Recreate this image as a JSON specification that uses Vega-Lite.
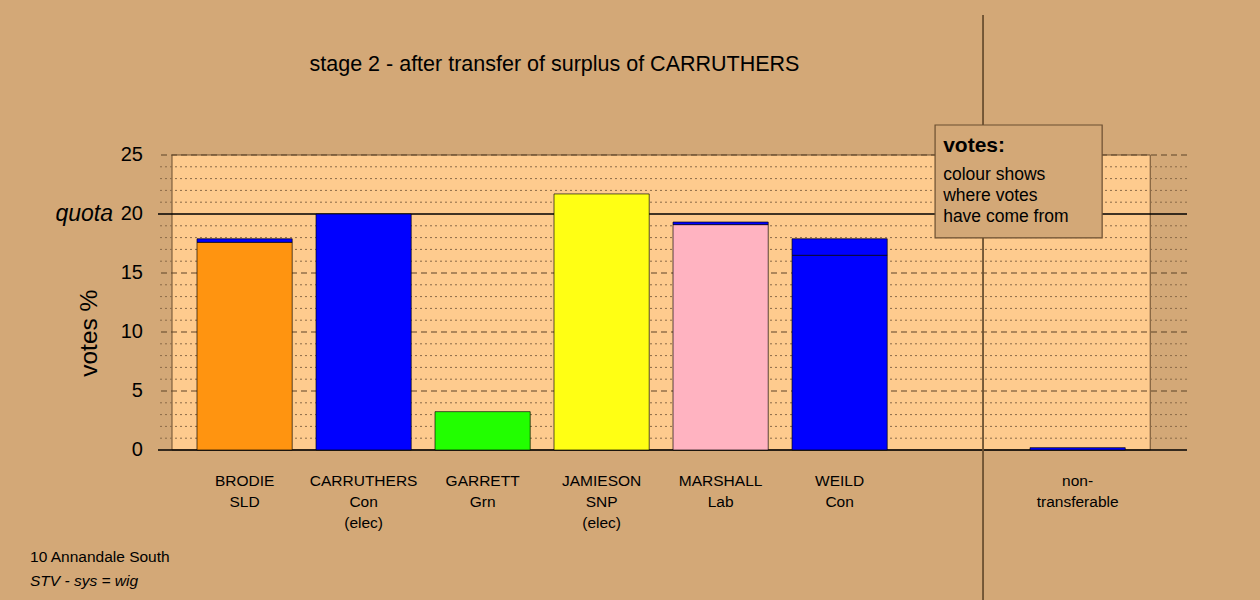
{
  "$schema": "https://vega.github.io/schema/vega-lite/v6.json",
  "autosize": "none",
  "width": 1029,
  "height": 585,
  "padding": {"left": 158, "top": 15, "right": 73, "bottom": 0},
  "background": "#D3A877",
  "config": {"view": {"stroke": null}, "font": "Liberation Sans", "text": {"font": "Liberation Sans"}},
  "datasets": {
    "bars": [
      {"slot": 0, "cand": "BRODIE", "source": "SLD", "seq": 1, "votes": 17.6},
      {"slot": 0, "cand": "BRODIE", "source": "Con", "seq": 2, "votes": 0.3},
      {"slot": 1, "cand": "CARRUTHERS", "source": "Con", "seq": 1, "votes": 20.0},
      {"slot": 2, "cand": "GARRETT", "source": "Grn", "seq": 1, "votes": 3.25},
      {"slot": 3, "cand": "JAMIESON", "source": "SNP", "seq": 1, "votes": 21.7},
      {"slot": 4, "cand": "MARSHALL", "source": "Lab", "seq": 1, "votes": 19.1},
      {"slot": 4, "cand": "MARSHALL", "source": "Con", "seq": 2, "votes": 0.22},
      {"slot": 5, "cand": "WEILD", "source": "Con", "seq": 1, "votes": 16.5},
      {"slot": 5, "cand": "WEILD", "source": "Con", "seq": 2, "votes": 1.4},
      {"slot": 7, "cand": "non-transferable", "source": "Con", "seq": 1, "votes": 0.2}
    ],
    "xlabels": [
      {"slot": 0, "label": "BRODIE\nSLD"},
      {"slot": 1, "label": "CARRUTHERS\nCon\n(elec)"},
      {"slot": 2, "label": "GARRETT\nGrn"},
      {"slot": 3, "label": "JAMIESON\nSNP\n(elec)"},
      {"slot": 4, "label": "MARSHALL\nLab"},
      {"slot": 5, "label": "WEILD\nCon"},
      {"slot": 7, "label": "non-\ntransferable"}
    ],
    "dotted": [{"v": 1}, {"v": 2}, {"v": 3}, {"v": 4}, {"v": 6}, {"v": 7}, {"v": 8}, {"v": 9}, {"v": 11}, {"v": 12}, {"v": 13}, {"v": 14}, {"v": 16}, {"v": 17}, {"v": 18}, {"v": 19}, {"v": 21}, {"v": 22}, {"v": 23}, {"v": 24}],
    "dashed": [{"v": 5}, {"v": 10}, {"v": 15}, {"v": 25}],
    "solid": [{"v": 0}, {"v": 20}],
    "yticks": [{"v": 0}, {"v": 5}, {"v": 10}, {"v": 15}, {"v": 20}, {"v": 25}]
  },
  "layer": [
    {
      "data": {"values": [{"x0": -0.61, "x1": 7.61, "y0": 0, "y1": 25}]},
      "mark": {"type": "rect", "fill": "#FECB8E", "stroke": "#6B4E30", "strokeWidth": 1},
      "encoding": {
        "x": {"field": "x0", "type": "quantitative", "scale": {"domain": [-0.7277, 7.919], "nice": false, "zero": false, "padding": 0}, "axis": null},
        "x2": {"field": "x1"},
        "y": {"field": "y0", "type": "quantitative", "scale": {"domain": [-12.712, 36.864], "nice": false, "zero": false, "padding": 0}, "axis": null},
        "y2": {"field": "y1"}
      }
    },
    {
      "data": {"name": "dotted"},
      "mark": {"type": "rule", "stroke": "#8A6A48", "strokeWidth": 1, "strokeDash": [2, 3]},
      "encoding": {"y": {"field": "v", "type": "quantitative", "axis": null}}
    },
    {
      "data": {"name": "dashed"},
      "mark": {"type": "rule", "stroke": "#5E4428", "strokeWidth": 1.2, "strokeDash": [6, 4]},
      "encoding": {"y": {"field": "v", "type": "quantitative", "axis": null}}
    },
    {
      "data": {"name": "solid"},
      "mark": {"type": "rule", "stroke": "#000000", "strokeWidth": 1.5},
      "encoding": {"y": {"field": "v", "type": "quantitative", "axis": null}}
    },
    {
      "data": {"values": [{"x": 6.205}]},
      "mark": {"type": "rule", "stroke": "#6B5030", "strokeWidth": 1.8},
      "encoding": {"x": {"field": "x", "type": "quantitative", "axis": null}}
    },
    {
      "data": {"name": "bars"},
      "transform": [
        {"stack": "votes", "groupby": ["slot"], "sort": [{"field": "seq"}], "as": ["v0", "v1"]}
      ],
      "mark": {"type": "bar", "width": 95.2, "stroke": "#000000", "strokeOpacity": 0.65, "strokeWidth": 1},
      "encoding": {
        "x": {"field": "slot", "type": "quantitative", "axis": null},
        "y": {"field": "v0", "type": "quantitative", "axis": null, "stack": null},
        "y2": {"field": "v1"},
        "fill": {"field": "source", "type": "nominal", "legend": null,
          "scale": {"domain": ["SLD", "Con", "Grn", "SNP", "Lab"], "range": ["#FF9410", "#0000FF", "#22FF00", "#FFFF14", "#FFB3C1"]}}
      }
    },
    {
      "data": {"values": [{"x0": 5.802, "x1": 7.206, "y0": 27.54, "y1": 17.97}]},
      "mark": {"type": "rect", "fill": "#D3A877", "stroke": "#6B4E30", "strokeWidth": 1.2},
      "encoding": {
        "x": {"field": "x0", "type": "quantitative", "axis": null},
        "x2": {"field": "x1"},
        "y": {"field": "y0", "type": "quantitative", "axis": null},
        "y2": {"field": "y1"}
      }
    },
    {
      "data": {"values": [{"t": "votes:", "x": 5.87, "y": 25.76}]},
      "mark": {"type": "text", "align": "left", "baseline": "middle", "fontSize": 21, "fontWeight": "bold", "color": "#000000"},
      "encoding": {"x": {"field": "x", "type": "quantitative"}, "y": {"field": "y", "type": "quantitative"}, "text": {"field": "t"}}
    },
    {
      "data": {"values": [{"t": "colour shows\nwhere votes\nhave come from", "x": 5.87, "y": 23.3}]},
      "mark": {"type": "text", "align": "left", "baseline": "middle", "fontSize": 17.5, "lineBreak": "\n", "lineHeight": 21, "color": "#000000"},
      "encoding": {"x": {"field": "x", "type": "quantitative"}, "y": {"field": "y", "type": "quantitative"}, "text": {"field": "t"}}
    },
    {
      "data": {"values": [{"t": "stage 2 - after transfer of surplus of CARRUTHERS", "x": 2.604, "y": 32.63}]},
      "mark": {"type": "text", "align": "center", "baseline": "middle", "fontSize": 21.5, "color": "#000000"},
      "encoding": {"x": {"field": "x", "type": "quantitative"}, "y": {"field": "y", "type": "quantitative"}, "text": {"field": "t"}}
    },
    {
      "data": {"name": "yticks"},
      "mark": {"type": "text", "align": "right", "baseline": "middle", "fontSize": 20, "color": "#000000"},
      "encoding": {"x": {"datum": -0.854, "type": "quantitative"}, "y": {"field": "v", "type": "quantitative"}, "text": {"field": "v", "type": "quantitative"}}
    },
    {
      "data": {"values": [{"t": "quota", "y": 20}]},
      "mark": {"type": "text", "align": "right", "baseline": "middle", "fontSize": 23, "fontStyle": "italic", "color": "#000000"},
      "encoding": {"x": {"datum": -1.106, "type": "quantitative"}, "y": {"field": "y", "type": "quantitative"}, "text": {"field": "t"}}
    },
    {
      "data": {"values": [{"t": "votes %", "y": 9.9}]},
      "mark": {"type": "text", "align": "center", "baseline": "middle", "fontSize": 24.5, "angle": 270, "color": "#000000"},
      "encoding": {"x": {"datum": -1.299, "type": "quantitative"}, "y": {"field": "y", "type": "quantitative"}, "text": {"field": "t"}}
    },
    {
      "data": {"name": "xlabels"},
      "mark": {"type": "text", "align": "center", "baseline": "top", "fontSize": 15.5, "lineBreak": "\n", "lineHeight": 21, "color": "#000000"},
      "encoding": {"x": {"field": "slot", "type": "quantitative"}, "y": {"datum": -2.05, "type": "quantitative"}, "text": {"field": "label"}}
    },
    {
      "data": {"values": [{"t": "10 Annandale South", "y": -9.07}]},
      "mark": {"type": "text", "align": "left", "baseline": "middle", "fontSize": 15.5, "color": "#000000"},
      "encoding": {"x": {"datum": -1.803, "type": "quantitative"}, "y": {"field": "y", "type": "quantitative"}, "text": {"field": "t"}}
    },
    {
      "data": {"values": [{"t": "STV - sys = wig", "y": -11.1}]},
      "mark": {"type": "text", "align": "left", "baseline": "middle", "fontSize": 15.5, "fontStyle": "italic", "color": "#000000"},
      "encoding": {"x": {"datum": -1.803, "type": "quantitative"}, "y": {"field": "y", "type": "quantitative"}, "text": {"field": "t"}}
    }
  ]
}
